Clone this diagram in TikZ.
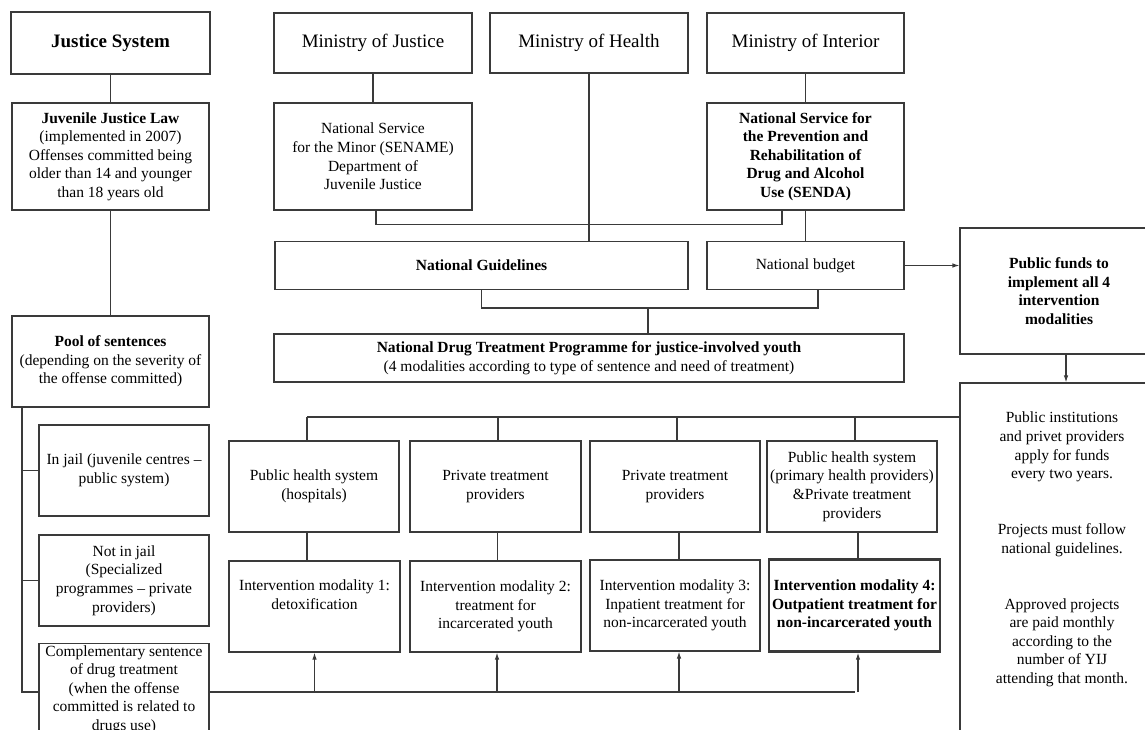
\documentclass[tikz,border=0pt]{standalone}
\usepackage{fontspec}
\setmainfont{Liberation Serif}
\usetikzlibrary{arrows.meta}
\definecolor{ln}{HTML}{3A3A3A}
\tikzset{
  box/.style={draw=ln, line width=1.1pt, rectangle, align=center, inner sep=2pt,
    font=\fontsize{15.5}{18.6}\selectfont, text=black},
  thickbox/.style={box, line width=2.4pt},
  title/.style={font=\fontsize{19}{22}\selectfont},
  conn/.style={draw=ln, line width=1.1pt},
  arr/.style={conn, -{Latex[length=7pt,width=4.5pt]}},
  txt/.style={align=center, inner sep=0pt, font=\fontsize{15.5}{18.6}\selectfont}
}
\begin{document}
\begin{tikzpicture}[x=1pt,y=-1pt]
\path[use as bounding box] (0,0) rectangle (1145,729);
\begin{scope}
\clip (0,0) rectangle (1145,729);
% top row
\node[thickbox, title, minimum width=199pt, minimum height=62pt] (js) at (110.5,43) {\textbf{Justice System}};
\node[box, title, minimum width=198pt, minimum height=60pt] (mj) at (373,43) {Ministry of Justice};
\node[box, title, minimum width=198pt, minimum height=60pt] (mh) at (589,43) {Ministry of Health};
\node[box, title, minimum width=197pt, minimum height=60pt] (mi) at (805.5,43) {Ministry of Interior};
% second row
\node[box, minimum width=197pt, minimum height=107pt] (jjl) at (110.5,156.5) {\textbf{Juvenile Justice Law}\\(implemented in 2007)\\Offenses committed being\\older than 14 and younger\\than 18 years old};
\node[box, minimum width=198pt, minimum height=107pt] (sen) at (373,156.5) {National Service\\for the Minor (SENAME)\\Department of\\Juvenile Justice};
\node[box, font=\fontsize{15.5}{18.6}\selectfont\bfseries, minimum width=197pt, minimum height=107pt] (senda) at (805.5,156.5) {National Service for\\the Prevention and\\Rehabilitation of\\Drug and Alcohol\\Use (SENDA)};
% guidelines / budget
\node[box, minimum width=413pt, minimum height=48pt] (ng) at (481.5,265.5) {\textbf{National Guidelines}};
\node[box, minimum width=197pt, minimum height=48pt] (nb) at (805.5,265.5) {National budget};
\node[box, minimum width=630pt, minimum height=48pt] (ndtp) at (589,358) {\textbf{National Drug Treatment Programme for justice-involved youth}\\(4 modalities according to type of sentence and need of treatment)};
% right column
\node[box, font=\fontsize{15.5}{18.6}\selectfont\bfseries, minimum width=198pt, minimum height=126pt] (pf) at (1059,291) {Public funds to\\implement all 4\\intervention\\modalities};
\node[box, minimum width=200pt, minimum height=357pt] (pi) at (1060,561.5) {};
\node[txt] (t1) at (1062,447) {Public institutions\\and privet providers\\apply for funds\\every two years.};
\node[txt] (t2) at (1062,540) {Projects must follow\\national guidelines.};
\node[txt] (t3) at (1062,642.5) {Approved projects\\are paid monthly\\according to the\\number of YIJ\\attending that month.};
% left column
\node[box, minimum width=197pt, minimum height=91pt] (pool) at (110.5,361.5) {\textbf{Pool of sentences}\\(depending on the severity of\\the offense committed)};
\node[box, minimum width=170pt, minimum height=91pt] (jail) at (124,470.5) {In jail (juvenile centres --\\public system)};
\node[box, minimum width=170pt, minimum height=91pt] (notjail) at (124,580.5) {Not in jail\\(Specialized\\programmes -- private\\providers)};
\node[box, minimum width=170pt, minimum height=91pt] (comp) at (124,689.5) {Complementary sentence\\of drug treatment\\(when the offense\\committed is related to\\drugs use)};
% providers
\node[box, minimum width=170pt, minimum height=91pt] (p1) at (314,486.5) {Public health system\\(hospitals)};
\node[box, minimum width=171pt, minimum height=91pt] (p2) at (495.5,486.5) {Private treatment\\providers};
\node[box, minimum width=170pt, minimum height=91pt] (p3) at (675,486.5) {Private treatment\\providers};
\node[box, minimum width=170pt, minimum height=91pt] (p4) at (852,486.5) {Public health system\\(primary health providers)\\\&Private treatment\\providers};
% modalities
\node[box, minimum width=171pt, minimum height=91pt] (m1) at (314.5,606.5) {Intervention modality 1:\\detoxification\\\strut};
\node[box, minimum width=171pt, minimum height=91pt] (m2) at (495.5,606.5) {Intervention modality 2:\\treatment for\\incarcerated youth};
\node[box, minimum width=170pt, minimum height=91pt] (m3) at (675,605.5) {Intervention modality 3:\\Inpatient treatment for\\non-incarcerated youth};
\node[thickbox, font=\fontsize{15.5}{18.6}\selectfont\bfseries, minimum width=171pt, minimum height=92pt] (m4) at (854.5,605.5) {Intervention modality 4:\\Outpatient treatment for\\non-incarcerated youth};

% connectors: top
\draw[conn] (js.south) -- (jjl.north);
\draw[conn] (jjl.south) -- (pool.north);
\draw[conn] (mj.south) -- (sen.north);
\draw[conn] (mi.south) -- (senda.north);
\draw[conn] (mh.south) -- (mh.south |- ng.north);
\draw[conn] ([xshift=3pt]sen.south) -- ++(0,14) -| ([xshift=-23.5pt]senda.south);
\draw[conn] (senda.south) -- (nb.north);
\coordinate (j2) at (648,308);
\draw[conn] (ng.south) |- (j2) -| ([xshift=12.5pt]nb.south);
\draw[conn] (j2) -- (j2 |- ndtp.north);
\draw[arr] (nb.east) -- (nb.east -| pf.west);
\draw[arr] ([xshift=7pt]pf.south) -- ([xshift=7pt]pf.south |- pi.north);
% bus to providers
\coordinate (bus) at (307,417);
\draw[conn] (bus) -- (bus -| pi.west);
\draw[conn] (bus) -- ([xshift=-7pt]p1.north);
\draw[conn] ([xshift=2.5pt]p2.north |- bus) -- ([xshift=2.5pt]p2.north);
\draw[conn] ([xshift=2pt]p3.north |- bus) -- ([xshift=2pt]p3.north);
\draw[conn] ([xshift=3pt]p4.north |- bus) -- ([xshift=3pt]p4.north);
% providers to modalities
\draw[conn] ([xshift=-7pt]p1.south) -- ([xshift=-7.5pt]m1.north);
\draw[conn] ([xshift=2pt]p2.south) -- ([xshift=2pt]m2.north);
\draw[conn] ([xshift=4pt]p3.south) -- ([xshift=4pt]m3.north);
\draw[conn] ([xshift=6pt]p4.south) -- ([xshift=3.5pt]m4.north);
% left trunk
\coordinate (trunk) at (22,407);
\draw[conn] (trunk) |- (jail.west);
\draw[conn] (trunk) |- (notjail.west);
\coordinate (bb) at (209,692);
\draw[conn] (trunk) |- (bb -| comp.west);
% bottom bus with arrows
\draw[conn] (bb) -- (bb -| m4.south);
\draw[arr] (bb -| m1.south) -- (m1.south);
\draw[arr] ([xshift=1.5pt]bb -| m2.south) -- ([xshift=1.5pt]m2.south);
\draw[arr] ([xshift=4pt]bb -| m3.south) -- ([xshift=4pt]m3.south);
\draw[arr] ([xshift=3.5pt]bb -| m4.south) -- ([xshift=3.5pt]m4.south);
\end{scope}
\end{tikzpicture}
\end{document}
